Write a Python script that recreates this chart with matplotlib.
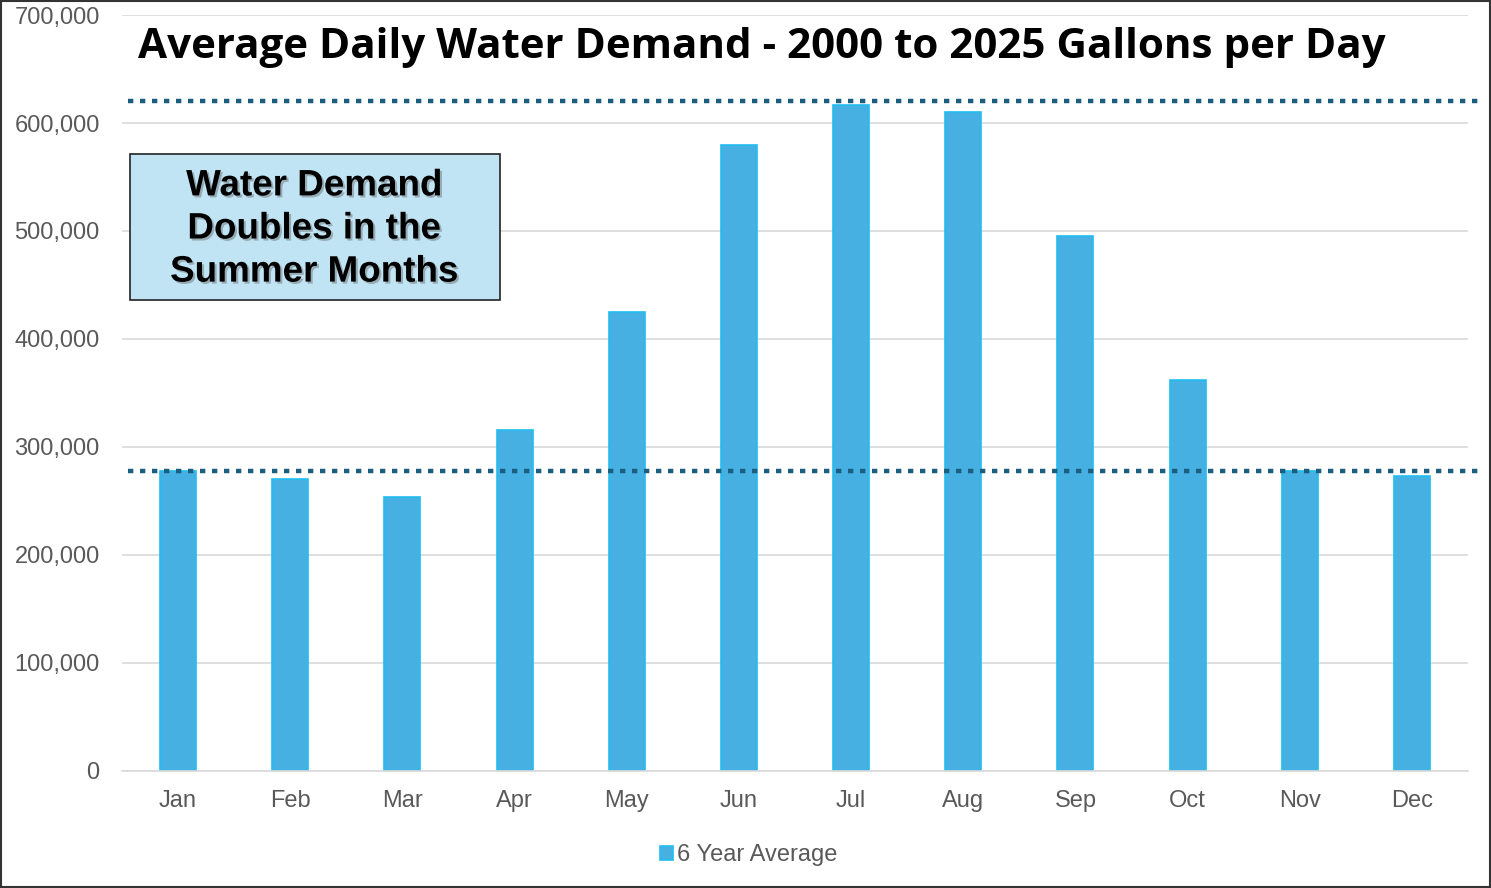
"""Average daily water demand by month, bar chart with two dotted reference lines."""
import matplotlib
matplotlib.use("Agg")
import matplotlib.pyplot as plt
import matplotlib.patheffects as pe
from matplotlib.patches import Rectangle
from matplotlib.ticker import FuncFormatter

months = ["Jan", "Feb", "Mar", "Apr", "May", "Jun",
          "Jul", "Aug", "Sep", "Oct", "Nov", "Dec"]
demand = [278000, 270000, 254000, 316000, 425000, 580000,
          617000, 610000, 495000, 362000, 278000, 273000]
ref_lines = [620000, 278000]
y_ticks = [0, 100000, 200000, 300000, 400000, 500000, 600000, 700000]

TITLE = "Average Daily Water Demand - 2000 to 2025 Gallons per Day"
NOTE = "Water Demand\nDoubles in the\nSummer Months"
SERIES = "6 Year Average"

BAR = "#45B0E1"
BAR_EDGE = "#22BDF0"
DOT = "#1B5E80"
GRID = "#D9D9D9"
TICK = "#595959"

fig = plt.figure(figsize=(14.91, 8.88), dpi=100)
ax = fig.add_axes([0.0818, 0.1318, 0.9028, 0.8513])

x = list(range(len(months)))
ax.bar(x, demand, width=0.32, color=BAR, edgecolor=BAR_EDGE, linewidth=1.2,
       label=SERIES, zorder=2)

for v in ref_lines:
    ax.hlines(v, -0.45, 11.6, colors=DOT, linewidth=3.2,
              linestyles=(0, (1.2, 1.5)), zorder=3, clip_on=False)

ax.set_xlim(-0.5, 11.5)
ax.set_ylim(0, 700000)
ax.set_yticks(y_ticks)
ax.yaxis.set_major_formatter(FuncFormatter(lambda v, _: f"{int(v):,}"))
ax.set_xticks(x)
ax.set_xticklabels(months)
ax.grid(axis="y", color=GRID, linewidth=1.2, zorder=0)
ax.set_axisbelow(True)
for side in ("top", "right", "left"):
    ax.spines[side].set_visible(False)
ax.spines["bottom"].set_color(GRID)
ax.spines["bottom"].set_linewidth(1.2)
ax.tick_params(axis="both", length=0, labelcolor=TICK, labelsize=17)
ax.tick_params(axis="x", pad=13.5)
ax.tick_params(axis="y", pad=16)
for lab in ax.get_xticklabels() + ax.get_yticklabels():
    lab.set_family("Liberation Sans")

fig.text(0.0926, 1 - 47 / 888, TITLE, fontsize=30.3, fontweight="bold",
         family="Open Sans", va="center", ha="left")

# callout box
fig.patches.append(Rectangle((130 / 1491, 1 - 300 / 888), 370 / 1491, 146 / 888,
                             transform=fig.transFigure, facecolor="#C0E4F4",
                             edgecolor="#222222", linewidth=1.2, zorder=4))
fig.text(314 / 1491, 1 - 229 / 888, NOTE, fontsize=26.5, fontweight="bold",
         family="Liberation Sans", ha="center", va="center", linespacing=1.3,
         zorder=5,
         path_effects=[pe.SimplePatchShadow(offset=(1.5, -1.5), shadow_rgbFace="#666666",
                                            alpha=0.45), pe.Normal()])

leg = fig.legend(loc="center", bbox_to_anchor=(0.502, 1 - 855 / 888), frameon=False,
                 handlelength=0.55, handleheight=0.55, handletextpad=0.15,
                 prop={"family": "Liberation Sans", "size": 17})
for t in leg.get_texts():
    t.set_color(TICK)

# outer frame
fig.patches.append(Rectangle((0.0005, 0.001), 0.999, 0.998, transform=fig.transFigure,
                             fill=False, edgecolor="#333333", linewidth=1.5))

fig.savefig("out.png", dpi=100)
